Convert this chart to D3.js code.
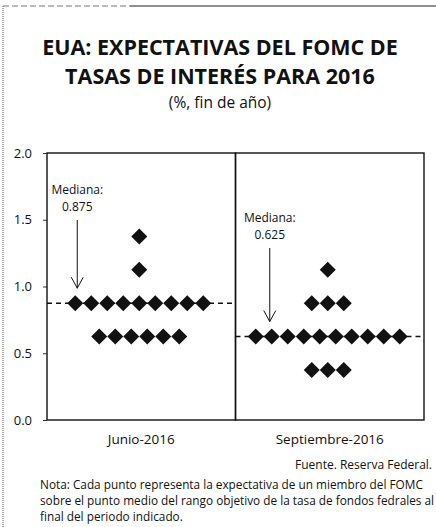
<!DOCTYPE html>
<html>
<head>
<meta charset="utf-8">
<script src="https://cdn.jsdelivr.net/npm/d3@7"></script>
<style>
  body { margin: 0; background: #fff; }
  text { font-family: "Open Sans", "Noto Sans", sans-serif; fill: #111; }
</style>
</head>
<body>
<div id="chart"></div>
<script>
// Chart data
var categories = ["Junio-2016", "Septiembre-2016"];
// dot rate values and how many FOMC members chose each
var juneRates = [0.625, 0.875, 1.125, 1.375];
var juneCounts = [6, 9, 1, 1];
var septRates = [0.375, 0.625, 0.875, 1.125];
var septCounts = [3, 10, 3, 1];
var medians = [0.875, 0.625];
var yTicks = [0, 0.5, 1.0, 1.5, 2.0];

var svgWidth = 436;
var svgHeight = 527;

var margin = { top: 153, right: 12, bottom: 107, left: 47 };
var chartWidth = svgWidth - margin.left - margin.right;
var chartHeight = svgHeight - margin.top - margin.bottom;

var svg = d3.select("#chart")
  .append("svg")
  .attr("width", svgWidth)
  .attr("height", svgHeight);

// frame lines of the page
svg.append("line")
  .attr("x1", 3).attr("x2", 3).attr("y1", 6).attr("y2", svgHeight)
  .attr("stroke", "#555").attr("stroke-width", 1).attr("stroke-dasharray", "1,1");
svg.append("line")
  .attr("x1", 3).attr("x2", 130).attr("y1", 6).attr("y2", 6)
  .attr("stroke", "#777").attr("stroke-width", 1).attr("stroke-dasharray", "6,3");
svg.append("line")
  .attr("x1", 130).attr("x2", svgWidth).attr("y1", 6).attr("y2", 6)
  .attr("stroke", "#222").attr("stroke-width", 1.2);

// Titles
svg.append("text")
  .attr("x", 220).attr("y", 55)
  .attr("text-anchor", "middle")
  .attr("font-size", "21.5px")
  .style("font-weight", "bold")
  .text("EUA: EXPECTATIVAS DEL FOMC DE");
svg.append("text")
  .attr("x", 220).attr("y", 84)
  .attr("text-anchor", "middle")
  .attr("font-size", "21.5px")
  .style("font-weight", "bold")
  .text("TASAS DE INTERÉS PARA 2016");
svg.append("text")
  .attr("x", 220).attr("y", 108)
  .attr("text-anchor", "middle")
  .attr("font-size", "15.5px")
  .text("(%, fin de año)");

var chartGroup = svg.append("g")
  .attr("transform", `translate(${margin.left}, ${margin.top})`);

var xScale = d3.scaleBand()
  .domain(categories)
  .range([0, chartWidth]);

var yScale = d3.scaleLinear()
  .domain([0, 2])
  .range([chartHeight, 0]);

// horizontal offset of the n-th dot in a row
var dotStep = 16;

// Build the points
var points = [];
function addPoints(cat, rates, counts) {
  rates.forEach(function(r, i) {
    var n = counts[i];
    for (var k = 0; k < n; k++) {
      points.push({ cat: cat, rate: r, offset: (k - (n - 1) / 2) * dotStep });
    }
  });
}
addPoints(categories[0], juneRates, juneCounts);
addPoints(categories[1], septRates, septCounts);

// y axis
var leftAxis = d3.axisLeft(yScale)
  .tickValues(yTicks)
  .tickFormat(d3.format(".1f"))
  .tickSize(4)
  .tickPadding(11);

var yAxisG = chartGroup.append("g").call(leftAxis);
yAxisG.select(".domain").remove();
yAxisG.selectAll("text").attr("font-size", "13px").style("fill", "#111");
yAxisG.selectAll("line").attr("stroke", "#333");

// panel boxes
categories.forEach(function(c) {
  chartGroup.append("rect")
    .attr("x", xScale(c))
    .attr("y", 0)
    .attr("width", xScale.bandwidth())
    .attr("height", chartHeight)
    .attr("fill", "none")
    .attr("stroke", "#111")
    .attr("stroke-width", 1.4);
});

// median dashed lines
categories.forEach(function(c, i) {
  chartGroup.append("line")
    .attr("x1", xScale(c))
    .attr("x2", xScale(c) + xScale.bandwidth())
    .attr("y1", yScale(medians[i]))
    .attr("y2", yScale(medians[i]))
    .attr("stroke", "#111")
    .attr("stroke-width", 1.4)
    .attr("stroke-dasharray", "5,4");
});

// diamonds
var diamond = d3.symbol().type(d3.symbolSquare).size(128);
chartGroup.selectAll(".dot")
  .data(points)
  .enter()
  .append("path")
  .attr("class", "dot")
  .attr("d", diamond)
  .attr("transform", d => `translate(${xScale(d.cat) + xScale.bandwidth() / 2 - 2 + d.offset}, ${yScale(d.rate)}) rotate(45)`)
  .attr("fill", "#111");

// median annotations
var notes = [
  { cat: categories[0], text: "0.875", dx: -64 },
  { cat: categories[1], text: "0.625", dx: -60 }
];
notes.forEach(function(n, i) {
  var cx = xScale(n.cat) + xScale.bandwidth() / 2 + n.dx;
  var yEnd = yScale(medians[i]) - 15;
  var yStart = i === 0 ? 67 : 95;
  chartGroup.append("text")
    .attr("x", cx).attr("y", yStart - 26)
    .attr("text-anchor", "middle")
    .attr("font-size", "12px")
    .text("Mediana:");
  chartGroup.append("text")
    .attr("x", cx).attr("y", yStart - 9)
    .attr("text-anchor", "middle")
    .attr("font-size", "12px")
    .text(n.text);
  chartGroup.append("line")
    .attr("x1", cx).attr("x2", cx)
    .attr("y1", yStart).attr("y2", yEnd)
    .attr("stroke", "#111").attr("stroke-width", 1);
  chartGroup.append("path")
    .attr("d", `M${cx - 6},${yEnd - 11} L${cx},${yEnd} L${cx + 6},${yEnd - 11}`)
    .attr("fill", "none").attr("stroke", "#111").attr("stroke-width", 1);
});

// category labels
chartGroup.selectAll(".catLabel")
  .data(categories)
  .enter()
  .append("text")
  .attr("x", d => xScale(d) + xScale.bandwidth() / 2)
  .attr("y", chartHeight + 24)
  .attr("text-anchor", "middle")
  .attr("font-size", "13.5px")
  .text(d => d);

// source and note
svg.append("text")
  .attr("x", 432).attr("y", 469)
  .attr("text-anchor", "end")
  .attr("font-size", "12px")
  .text("Fuente. Reserva Federal.");

var noteLines = [
  "Nota: Cada punto representa la expectativa de un miembro del FOMC",
  "sobre el punto medio del rango objetivo de la tasa de fondos fedrales al",
  "final del periodo indicado."
];
svg.append("g").selectAll("text")
  .data(noteLines)
  .enter()
  .append("text")
  .attr("x", 40)
  .attr("y", (d, i) => 489 + i * 16)
  .attr("font-size", "11.8px")
  .text(d => d);
</script>
</body>
</html>
